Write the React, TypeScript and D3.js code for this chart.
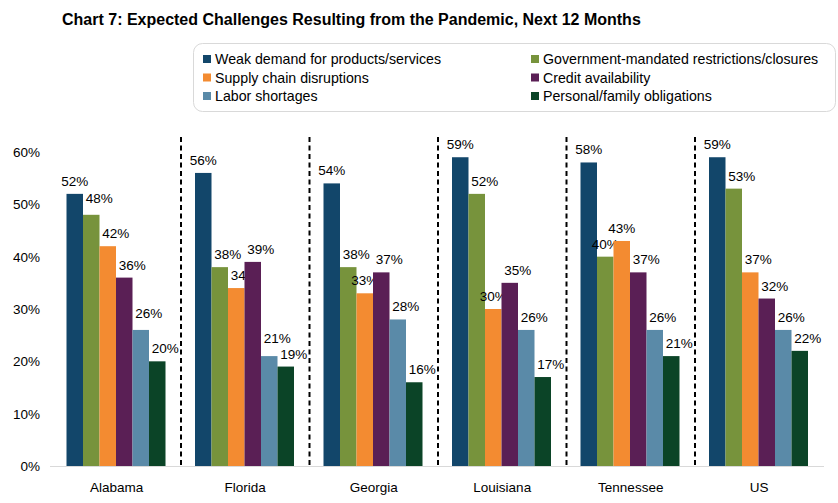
import React from "react";
import * as d3 from "d3";

const categories = ["Alabama", "Florida", "Georgia", "Louisiana", "Tennessee", "US"];
const seriesNames = [
  "Weak demand for products/services",
  "Government-mandated restrictions/closures",
  "Supply chain disruptions",
  "Credit availability",
  "Labor shortages",
  "Personal/family obligations",
];
const weakDemand = [52, 56, 54, 59, 58, 59];
const govRestrictions = [48, 38, 38, 52, 40, 53];
const supplyChain = [42, 34, 33, 30, 43, 37];
const creditAvail = [36, 39, 37, 35, 37, 32];
const laborShortages = [26, 21, 28, 26, 26, 26];
const familyObligations = [20, 19, 16, 17, 21, 22];
const yTicks = [0, 10, 20, 30, 40, 50, 60];

const seriesValues = [weakDemand, govRestrictions, supplyChain, creditAvail, laborShortages, familyObligations];
const colors = ["#12466a", "#77933c", "#f38b31", "#5a1f55", "#5a8aa8", "#0b4427"];

// labels that sit centred over their bar instead of nudged right
const centeredLabels = ["Georgia-2", "Louisiana-2", "Tennessee-1", "Tennessee-2"];
// labels lifted a little higher to clear a neighbour
const liftedLabels: Record<string, number> = { "Florida-4": 5, "Alabama-1": 4, "Alabama-4": 4 };

const W = 838;
const H = 503;
const font = "Arial, 'Liberation Sans', sans-serif";

export default function App() {
  const x0 = d3.scaleBand<string>().domain(categories).range([52.5, 823.5]).padding(0);
  const x1 = d3
    .scaleBand<number>()
    .domain(d3.range(seriesNames.length))
    .range([14, 113])
    .padding(0);
  const y = d3.scaleLinear().domain([0, 60]).range([466, 152]);

  return (
    <svg
      width={W}
      height={H}
      style={{ position: "absolute", left: 0, top: 0, background: "#fff" }}
      fontFamily={font}
    >
      <text x={62} y={25} fontSize={16} fontWeight="bold" fill="#000">
        Chart 7: Expected Challenges Resulting from the Pandemic, Next 12 Months
      </text>

      {/* legend */}
      <rect x={193.5} y={43.5} width={642} height={68} rx={9} fill="#fff" stroke="#d9d9d9" />
      {seriesNames.map((name, i) => {
        const col = i % 2;
        const row = Math.floor(i / 2);
        const lx = col === 0 ? 203 : 531;
        const ly = 59 + row * 18.5;
        return (
          <g key={name}>
            <rect x={lx} y={ly - 4} width={8} height={8} fill={colors[i]} />
            <text x={lx + 12} y={ly + 5} fontSize={14.2} fill="#000">
              {name}
            </text>
          </g>
        );
      })}

      {/* y axis labels */}
      {yTicks.map((t) => (
        <text key={t} x={40} y={y(t) + 5} fontSize={13.5} textAnchor="end" fill="#000">
          {t}%
        </text>
      ))}

      {/* baseline */}
      <line x1={50} x2={824} y1={466.5} y2={466.5} stroke="#d9d9d9" strokeWidth={1} />

      {/* dividers */}
      {categories.slice(1).map((c) => (
        <line
          key={c}
          x1={x0(c)!}
          x2={x0(c)!}
          y1={137}
          y2={467}
          stroke="#000"
          strokeWidth={2}
          strokeDasharray="5,3.5"
        />
      ))}

      {/* bars and labels */}
      {categories.map((c, ci) => (
        <g key={c} transform={`translate(${x0(c)},0)`}>
          {seriesValues.map((vals, si) => {
            const v = vals[ci];
            const bx = x1(si)!;
            const bw = x1.bandwidth();
            const key = `${c}-${si}`;
            const centred = si === 0 || centeredLabels.includes(key);
            const lx = bx + bw / 2 + (centred ? 0 : 8);
            const lift = liftedLabels[key] ?? 0;
            return (
              <g key={si}>
                <rect x={bx} y={y(v)} width={bw} height={y(0) - y(v)} fill={colors[si]} />
                <text x={lx} y={y(v) - 8 - lift} fontSize={13.5} textAnchor="middle" fill="#000">
                  {v}%
                </text>
              </g>
            );
          })}
          <text
            x={x0.bandwidth() / 2}
            y={492}
            fontSize={13.5}
            textAnchor="middle"
            fill="#000"
          >
            {c}
          </text>
        </g>
      ))}
    </svg>
  );
}
